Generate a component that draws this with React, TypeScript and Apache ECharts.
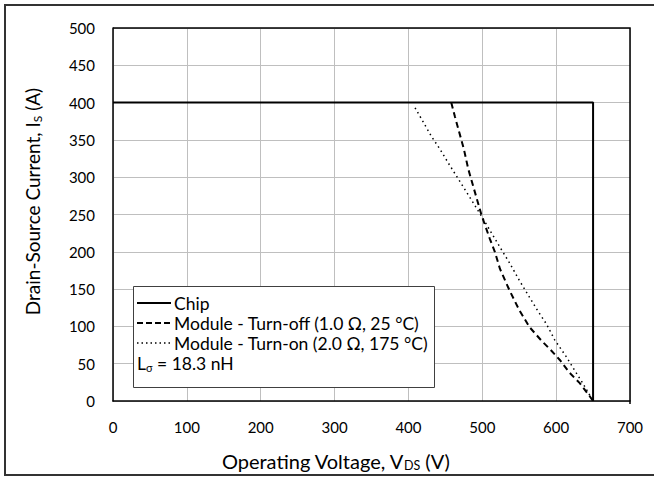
import React, { useEffect, useRef } from "react";
import * as echarts from "echarts";

const chipData: [number, number][] = [
  [0, 400],
  [650, 400],
  [650, 0],
];

const turnOffData: [number, number][] = [
  [458, 400], [463, 381], [468, 363], [475, 338], [481, 311], [490, 280],
  [499, 249], [510, 218], [517, 200], [524, 177], [537, 148], [550, 122],
  [564, 99], [580, 81], [593, 68], [605, 55], [618, 38], [632, 24],
  [645, 7], [650, 0],
];

const turnOnData: [number, number][] = [
  [409, 393], [420, 374], [431, 355], [443, 337], [454, 319], [466, 300],
  [478, 281], [490, 262], [500, 246], [512, 226], [524, 206], [537, 185],
  [550, 162], [564, 139], [575, 121], [587, 103], [598, 82], [614, 59],
  [627, 38], [636, 24], [650, 0],
];

const legendNames = [
  "Chip",
  "Module - Turn-off (1.0 Ω, 25 °C)",
  "Module - Turn-on (2.0 Ω, 175 °C)",
];

const FONT = "Lato";

export default function App() {
  const ref = useRef<HTMLDivElement>(null);
  useEffect(() => {
    if (!ref.current) return;
    const chart = echarts.init(ref.current, undefined, { renderer: "svg" });
    const lx = 133;
    const ly = 286;
    const rowY = [303, 323, 343];
    const lineStyles = [
      { stroke: "#000", lineWidth: 2 },
      { stroke: "#000", lineWidth: 2, lineDash: [6, 3] },
      { stroke: "#000", lineWidth: 1.5, lineDash: [1.5, 3] },
    ];
    const legendGraphics: any[] = [
      {
        type: "rect",
        shape: { x: lx + 0.5, y: ly + 0.5, width: 301, height: 101 },
        style: { fill: "#fff", stroke: "#404040", lineWidth: 1 },
        z: 100,
      },
    ];
    legendNames.forEach((n, i) => {
      legendGraphics.push({
        type: "line",
        shape: { x1: 137, y1: rowY[i], x2: 171, y2: rowY[i] },
        style: lineStyles[i],
        z: 101,
      });
      legendGraphics.push({
        type: "text",
        x: 174,
        y: rowY[i],
        style: {
          text: n,
          font: `17.5px ${FONT}`,
          fill: "#000",
          verticalAlign: "middle",
        },
        z: 101,
      });
    });
    legendGraphics.push({
      type: "text",
      x: 137,
      y: 363,
      style: {
        text: "{a|L}{s|σ}{a| = 18.3 nH}",
        verticalAlign: "middle",
        rich: {
          a: { fontFamily: FONT, fontSize: 17.5, fill: "#000" } as any,
          s: { fontFamily: FONT, fontSize: 11, fill: "#000", padding: [9, 0, 0, 0] } as any,
        },
      },
      z: 101,
    });

    chart.setOption({
      animation: false,
      backgroundColor: "#fff",
      grid: { left: 113, right: 24, top: 28, bottom: 73, containLabel: false },
      xAxis: {
        type: "value",
        min: 0,
        max: 700,
        interval: 100,
        name: "{a|Operating Voltage, V}{s|DS}{a| (V)}",
        nameLocation: "middle",
        nameGap: 48,
        nameTextStyle: {
          padding: [0, 72, 0, 0],
          rich: {
            a: { fontFamily: FONT, fontSize: 20, color: "#000" },
            s: { fontFamily: FONT, fontSize: 12.5, color: "#000", padding: [10, 0, 0, 0] },
          },
        },
        axisLine: { show: true, lineStyle: { color: "#000", width: 1.5 } },
        axisTick: { show: false },
        axisLabel: { fontFamily: FONT, fontSize: 15, color: "#000", margin: 18 },
        splitLine: { show: true, lineStyle: { color: "#bfbfbf", width: 1 } },
      },
      yAxis: {
        type: "value",
        min: 0,
        max: 500,
        interval: 50,
        name: "{a|Drain-Source Current, I}{s|S}{a| (A)}",
        nameLocation: "middle",
        nameRotate: 90,
        nameGap: 70,
        nameTextStyle: {
          padding: [0, 0, 0, 26],
          rich: {
            a: { fontFamily: FONT, fontSize: 19, color: "#000" },
            s: { fontFamily: FONT, fontSize: 12, color: "#000", padding: [10, 0, 0, 0] },
          },
        },
        axisLine: { show: true, lineStyle: { color: "#000", width: 1.5 } },
        axisTick: { show: false },
        axisLabel: { fontFamily: FONT, fontSize: 15, color: "#000", margin: 18 },
        splitLine: { show: true, lineStyle: { color: "#bfbfbf", width: 1 } },
      },
      series: [
        {
          name: legendNames[0],
          type: "line",
          data: chipData,
          showSymbol: false,
          symbol: "none",
          lineStyle: { color: "#000", width: 2 },
          z: 3,
        },
        {
          name: legendNames[1],
          type: "line",
          data: turnOffData,
          showSymbol: false,
          symbol: "none",
          lineStyle: { color: "#000", width: 2, type: [6, 4] },
          z: 4,
        },
        {
          name: legendNames[2],
          type: "line",
          data: turnOnData,
          showSymbol: false,
          symbol: "none",
          lineStyle: { color: "#000", width: 1.5, type: [1.5, 3.5] },
          z: 4,
        },
      ],
      graphic: [
        {
          type: "rect",
          shape: { x: 5, y: 5, width: 700, height: 470 },
          style: { fill: "none", stroke: "#333", lineWidth: 2 },
          z: 100,
        },
        {
          type: "polyline",
          shape: { points: [[113, 28], [630, 28], [630, 404]] },
          style: { fill: "none", stroke: "#000", lineWidth: 1.5 },
          z: 50,
        },
        ...legendGraphics,
      ],
    });
    return () => chart.dispose();
  }, []);
  return (
    <div
      ref={ref}
      style={{ position: "fixed", left: 0, top: 0, width: 654, height: 477 }}
    />
  );
}
